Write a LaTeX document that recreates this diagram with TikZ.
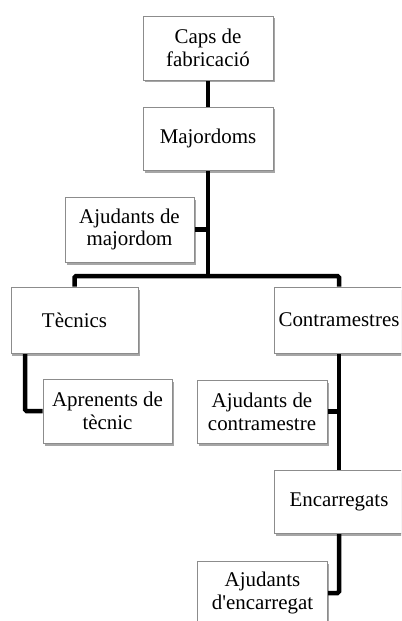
\documentclass[tikz,border=0pt]{standalone}
\usepackage{fontspec}
\setmainfont{Liberation Serif}
\usetikzlibrary{shadows,backgrounds}
\begin{document}
\begin{tikzpicture}[x=1bp,y=-1bp,
  orgbox/.style={draw=black!45, line width=0.8bp, fill=white,
    minimum width=130bp, minimum height=64bp, inner sep=0pt, align=center,
    font=\fontsize{21}{23}\selectfont,
    drop shadow={shadow xshift=1.5bp, shadow yshift=-2.5bp, fill=black, opacity=0.35}},
  conn/.style={draw=black, line width=4.5bp, rounded corners=1.5bp}]
\useasboundingbox (0,0) rectangle (401,621);
\clip (0,0) rectangle (401,621);
\node[orgbox] (caps) at (208,48) {Caps de\\fabricació};
\node[orgbox, minimum height=63bp] (major) at (208,138.5) {Majordoms};
\node[orgbox, minimum width=129bp, minimum height=65bp] (ajmaj) at (129.5,229.5) {Ajudants de\\majordom};
\node[orgbox, minimum width=127bp, minimum height=66bp] (tec) at (74.5,320) {Tècnics};
\node[orgbox, minimum height=66bp] (contra) at (339,320) {Contramestres};
\node[orgbox, minimum width=129bp] (apr) at (107.5,411) {Aprenents de\\tècnic};
\node[orgbox, minimum height=63bp] (ajcon) at (262,411.5) {Ajudants de\\contramestre};
\node[orgbox, minimum height=63bp] (enc) at (339,501.5) {Encarregats};
\node[orgbox] (ajenc) at (262.5,593) {Ajudants\\d\textquotesingle encarregat};
\coordinate (bar) at (208,276);
\coordinate (tecdown) at (25,353);
\begin{scope}[on background layer]
\draw[conn] (caps.south) -- (major.north);
\draw[conn] (major.south) -- (bar);
\draw[conn] (tec.north) |- (bar) -| (contra.north);
\draw[conn] (ajmaj.east) -- (ajmaj.east -| bar);
\draw[conn] (tecdown) |- (apr.west);
\draw[conn] (contra.south) -- (enc.north);
\draw[conn] (ajcon.east) -- (ajcon.east -| contra.south);
\draw[conn] (enc.south) |- (ajenc.east);
\end{scope}
\end{tikzpicture}
\end{document}
